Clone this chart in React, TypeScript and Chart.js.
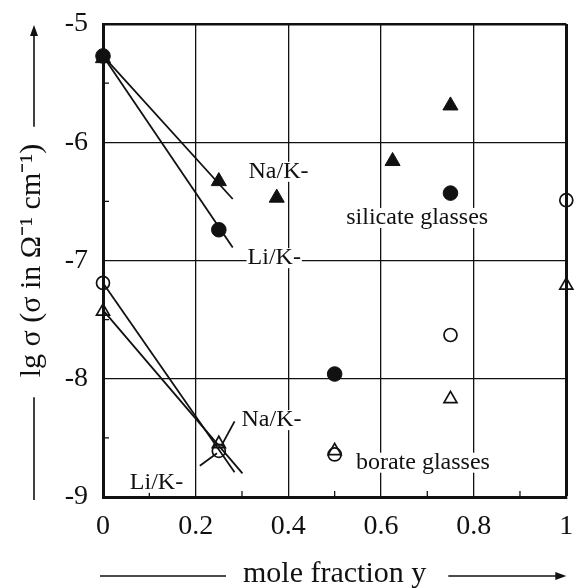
import React, { useEffect, useRef } from "react";
import { Chart, registerables } from "chart.js";

Chart.register(...registerables);

// ---- data ----
const xTickLabels = ["0", "0.2", "0.4", "0.6", "0.8", "1"];
const yTickLabels = ["-9", "-8", "-7", "-6", "-5"];
const xMinorTicks = [0.1, 0.3, 0.5, 0.7, 0.9];
const yMinorTicks = [-8.5, -7.5, -6.5, -5.5];

// silicate glasses (filled symbols)
const silicateNaKX = [0, 0.25, 0.375, 0.625, 0.75];
const silicateNaKY = [-5.29, -6.33, -6.47, -6.16, -5.69];
const silicateLiKX = [0, 0.25, 0.5, 0.75];
const silicateLiKY = [-5.27, -6.74, -7.96, -6.43];

// borate glasses (open symbols)
const borateNaKX = [0, 0.25, 0.5, 0.75, 1];
const borateNaKY = [-7.43, -8.55, -8.61, -8.17, -7.21];
const borateLiKX = [0, 0.25, 0.5, 0.75, 1];
const borateLiKY = [-7.19, -8.61, -8.64, -7.63, -6.49];

// fitted straight lines
const silicateNaKFitX = [0, 0.28];
const silicateNaKFitY = [-5.27, -6.48];
const silicateLiKFitX = [0, 0.28];
const silicateLiKFitY = [-5.27, -6.89];
const borateLiKFitX = [0, 0.284];
const borateLiKFitY = [-7.19, -8.79];
const borateNaKFitX = [0, 0.301];
const borateNaKFitY = [-7.42, -8.8];

// label leader lines
const borateNaKLeaderX = [0.284, 0.255];
const borateNaKLeaderY = [-8.36, -8.57];
const borateLiKLeaderX = [0.209, 0.246];
const borateLiKLeaderY = [-8.735, -8.63];

// annotations (data coordinates, left/middle anchored)
const annotationTexts = ["Na/K-", "Li/K-", "silicate glasses", "Na/K-", "Li/K-", "borate glasses"];
const annotationX = [0.314, 0.312, 0.525, 0.299, 0.058, 0.546];
const annotationY = [-6.25, -6.98, -6.64, -8.35, -8.88, -8.71];

const xTitle = "mole fraction y";
const yTitle = "lg σ (σ in Ω⁻¹ cm⁻¹)";

const FONT = '"Liberation Serif", "Times New Roman", serif';
const INK = "#111";

const pts = (xs: number[], ys: number[]) => xs.map((x, i) => ({ x, y: ys[i] }));

const lineDs = (xs: number[], ys: number[]) => ({
  data: pts(xs, ys),
  showLine: true,
  borderColor: INK,
  borderWidth: 1.8,
  pointRadius: 0,
  fill: false,
  clip: false,
  order: 2,
});

const decorPlugin = {
  id: "decor",
  afterDraw(chart: any) {
    const { ctx, chartArea: ca, scales } = chart;
    const sx = scales.x;
    const sy = scales.y;
    ctx.save();
    ctx.strokeStyle = INK;
    ctx.fillStyle = INK;

    // minor ticks (inward)
    ctx.lineWidth = 1.3;
    xMinorTicks.forEach((v) => {
      const px = sx.getPixelForValue(v);
      ctx.beginPath();
      ctx.moveTo(px, ca.bottom);
      ctx.lineTo(px, ca.bottom - 6);
      ctx.stroke();
    });
    yMinorTicks.forEach((v) => {
      const py = sy.getPixelForValue(v);
      ctx.beginPath();
      ctx.moveTo(ca.left, py);
      ctx.lineTo(ca.left + 6, py);
      ctx.stroke();
    });

    // annotations
    ctx.font = `24px ${FONT}`;
    ctx.textBaseline = "middle";
    ctx.textAlign = "left";
    annotationTexts.forEach((t, i) => {
      const px = sx.getPixelForValue(annotationX[i]);
      const py = sy.getPixelForValue(annotationY[i]);
      const w = ctx.measureText(t).width;
      ctx.fillStyle = "#fff";
      ctx.fillRect(px - 1, py - 10, w + 2, 20);
      ctx.fillStyle = INK;
      ctx.fillText(t, px, py);
    });

    // axis title decorations
    ctx.font = `30px ${FONT}`;
    ctx.lineWidth = 1.6;
    const arrowHead = (x: number, y: number, dx: number, dy: number) => {
      const L = 11;
      const H = 4;
      const nx = -dy;
      const ny = dx;
      ctx.beginPath();
      ctx.moveTo(x, y);
      ctx.lineTo(x - dx * L + nx * H, y - dy * L + ny * H);
      ctx.lineTo(x - dx * L - nx * H, y - dy * L - ny * H);
      ctx.closePath();
      ctx.fill();
    };

    // x title lines
    const xw = ctx.measureText(xTitle).width;
    const xc = (ca.left + ca.right) / 2;
    const ty = chart.height - 12;
    ctx.beginPath();
    ctx.moveTo(ca.left - 3, ty);
    ctx.lineTo(xc - xw / 2 - 17, ty);
    ctx.stroke();
    ctx.beginPath();
    ctx.moveTo(xc + xw / 2 + 22, ty);
    ctx.lineTo(ca.right - 4, ty);
    ctx.stroke();
    arrowHead(ca.right, ty, 1, 0);

    // y title lines
    const yw = ctx.measureText(yTitle).width;
    const yc = (ca.top + ca.bottom) / 2;
    const tx = 34;
    ctx.beginPath();
    ctx.moveTo(tx, yc - yw / 2 - 17);
    ctx.lineTo(tx, ca.top + 5);
    ctx.stroke();
    arrowHead(tx, ca.top + 1, 0, -1);
    ctx.beginPath();
    ctx.moveTo(tx, yc + yw / 2 + 20);
    ctx.lineTo(tx, ca.bottom + 3);
    ctx.stroke();

    ctx.restore();
  },
};

export default function App() {
  const ref = useRef<HTMLCanvasElement | null>(null);

  useEffect(() => {
    if (!ref.current) return;
    const chart = new Chart(ref.current, {
      type: "scatter",
      data: {
        datasets: [
          lineDs(silicateNaKFitX, silicateNaKFitY),
          lineDs(silicateLiKFitX, silicateLiKFitY),
          lineDs(borateLiKFitX, borateLiKFitY),
          lineDs(borateNaKFitX, borateNaKFitY),
          lineDs(borateNaKLeaderX, borateNaKLeaderY),
          lineDs(borateLiKLeaderX, borateLiKLeaderY),
          {
            label: "silicate Na/K",
            data: pts(silicateNaKX, silicateNaKY),
            pointStyle: "triangle",
            pointRadius: 8.7,
            backgroundColor: INK,
            borderColor: INK,
            borderWidth: 1,
            clip: false,
            order: 1,
          },
          {
            label: "silicate Li/K",
            data: pts(silicateLiKX, silicateLiKY),
            pointStyle: "circle",
            pointRadius: 7.3,
            backgroundColor: INK,
            borderColor: INK,
            borderWidth: 1,
            clip: false,
            order: 0,
          },
          {
            label: "borate Na/K",
            data: pts(borateNaKX, borateNaKY),
            pointStyle: "triangle",
            pointRadius: 7.5,
            backgroundColor: "rgba(0,0,0,0)",
            borderColor: INK,
            borderWidth: 1.7,
            clip: false,
            order: 1,
          },
          {
            label: "borate Li/K",
            data: pts(borateLiKX, borateLiKY),
            pointStyle: "circle",
            pointRadius: 6.5,
            backgroundColor: "rgba(0,0,0,0)",
            borderColor: INK,
            borderWidth: 1.7,
            clip: false,
            order: 1,
          },
        ],
      },
      options: {
        responsive: false,
        animation: false,
        devicePixelRatio: 1,
        layout: { padding: { top: 24, right: 8, left: 0, bottom: 0 } },
        plugins: { legend: { display: false }, tooltip: { enabled: false } },
        scales: {
          x: {
            type: "linear",
            min: 0,
            max: 1,
            afterBuildTicks: (s: any) => {
              s.ticks = xTickLabels.map((l) => ({ value: parseFloat(l) }));
            },
            afterFit: (s: any) => {
              s.height = 91;
              s.paddingLeft = 0;
              s.paddingRight = 0;
            },
            ticks: {
              callback: (_v: any, i: number) => xTickLabels[i],
              font: { family: FONT, size: 28 },
              color: INK,
              padding: 13,
              maxRotation: 0,
            },
            grid: {
              color: INK,
              lineWidth: (c: any) => (c.tick && c.tick.value === 1 ? 3 : 1.3),
              drawTicks: false,
            },
            border: { display: true, color: INK, width: 3 },
            title: {
              display: true,
              text: xTitle,
              font: { family: FONT, size: 30, lineHeight: 0.9 },
              color: INK,
              padding: { top: 0, bottom: 0 },
            },
          },
          y: {
            type: "linear",
            min: -9,
            max: -5,
            afterBuildTicks: (s: any) => {
              s.ticks = yTickLabels.map((l) => ({ value: parseFloat(l) }));
            },
            afterFit: (s: any) => {
              s.width = 103;
              s.paddingTop = 0;
              s.paddingBottom = 0;
            },
            ticks: {
              callback: (_v: any, i: number) => yTickLabels[i],
              font: { family: FONT, size: 28 },
              color: INK,
              padding: 15,
            },
            grid: {
              color: INK,
              lineWidth: (c: any) => (c.tick && c.tick.value === -5 ? 2.5 : 1.3),
              drawTicks: false,
            },
            border: { display: true, color: INK, width: 3 },
            title: {
              display: true,
              text: yTitle,
              font: { family: FONT, size: 30, lineHeight: 1 },
              color: INK,
              padding: { top: 17, bottom: 0 },
            },
          },
        },
      },
      plugins: [decorPlugin],
    } as any);
    return () => chart.destroy();
  }, []);

  return (
    <div style={{ position: "fixed", left: 0, top: 0, width: 576, height: 588, background: "#fff" }}>
      <canvas ref={ref} width={576} height={588} style={{ width: 576, height: 588, display: "block" }} />
    </div>
  );
}
